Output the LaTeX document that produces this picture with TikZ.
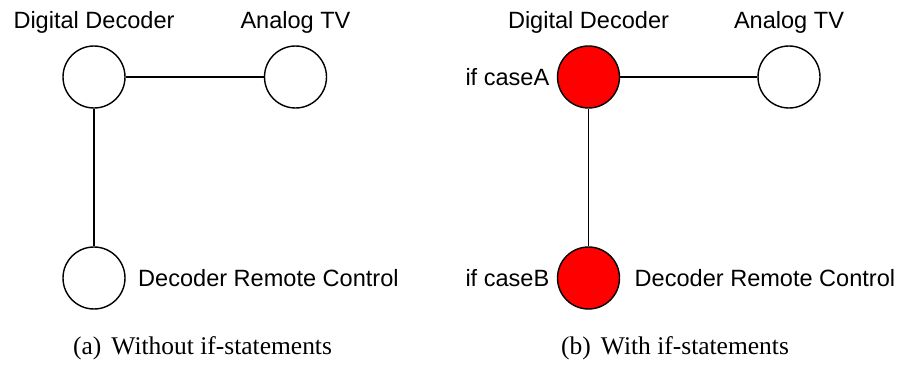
\documentclass[tikz,border=0pt]{standalone}
\usepackage{fontspec}
\setmainfont{Liberation Serif}
\newfontfamily\diafont{Liberation Sans}
\usetikzlibrary{positioning}
\tikzset{
  st/.style={circle, draw, line width=0.8pt, minimum size=1.24cm, inner sep=0pt},
  hot/.style={st, fill=red},
  lbl/.style={font=\diafont\fontsize{13.4}{16}\selectfont, inner sep=0pt},
  subcap/.style={font=\fontsize{14.5}{17}\selectfont, inner sep=0pt}
}
\begin{document}
\begin{tikzpicture}[line width=0.6pt]
\useasboundingbox (0,0) rectangle (17.96,7.3);

% (a)
\node[st](dda) at (1.88,5.76){};
\node[st](tva) at (5.91,5.76){};
\node[st](rca) at (1.88,1.74){};
\draw(dda)--(tva);
\draw(dda)--(rca);
\node[lbl, above=0.22cm of dda](ddal){Digital Decoder};
\node[lbl, above=0.22cm of tva](tval){Analog TV};
\node[lbl, right=0.24cm of rca](rcal){Decoder Remote Control};
\node[subcap](capa) at (4.05,0.33){(a)\hspace{0.4em}Without if-statements};

% (b)
\node[hot](ddb) at (11.77,5.76){};
\node[st](tvb) at (15.78,5.76){};
\node[hot](rcb) at (11.77,1.74){};
\draw(ddb)--(tvb);
\draw(ddb)--(rcb);
\node[lbl, above=0.22cm of ddb](ddbl){Digital Decoder};
\node[lbl, above=0.22cm of tvb](tvbl){Analog TV};
\node[lbl, right=0.28cm of rcb](rcbl){Decoder Remote Control};
\node[lbl, left=0.14cm of ddb](casea){if caseA};
\node[lbl, left=0.14cm of rcb](caseb){if caseB};
\node[subcap](capb) at (13.5,0.33){(b)\hspace{0.4em}With if-statements};

\end{tikzpicture}
\end{document}
